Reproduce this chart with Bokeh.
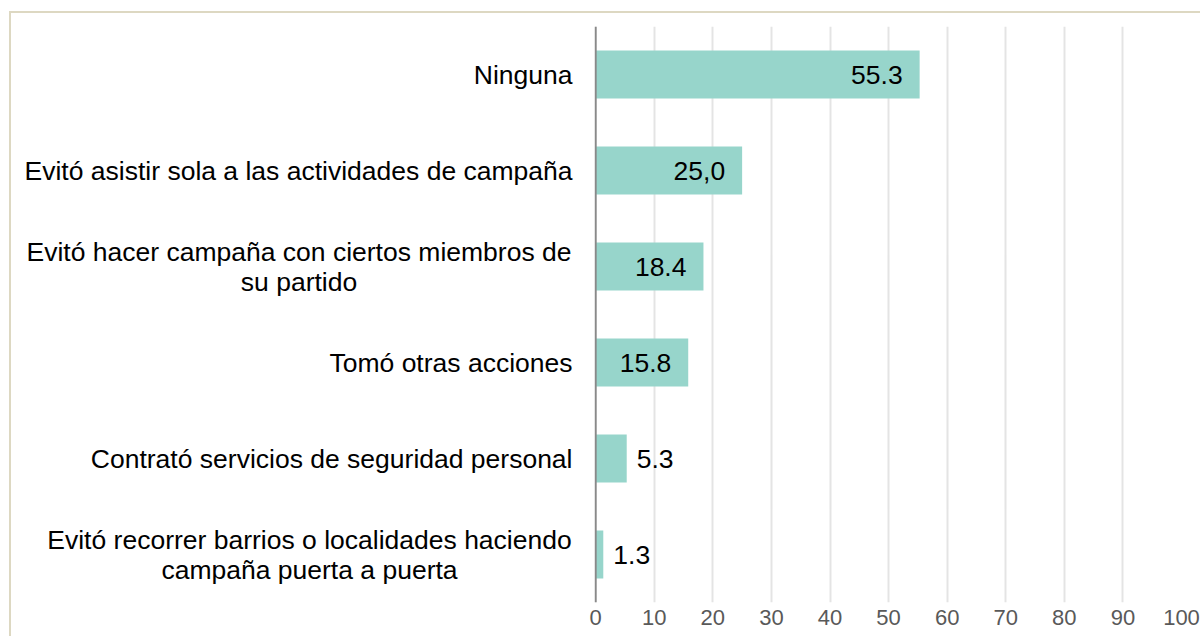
from bokeh.plotting import figure
from bokeh.layouts import row
from bokeh.models import Range1d, FixedTicker, Span, ColumnDataSource
from bokeh.core.properties import value
from bokeh.embed import file_html
from bokeh.resources import INLINE

# ---- data ----
categories = [
    "Ninguna",
    "Evitó asistir sola a las actividades de campaña",
    "Evitó hacer campaña con ciertos miembros de\nsu partido",
    "Tomó otras acciones",
    "Contrató servicios de seguridad personal",
    "Evitó recorrer barrios o localidades haciendo\ncampaña puerta a puerta",
]
values = [55.3, 25.0, 18.4, 15.8, 5.3, 1.3]
value_labels = ["55.3", "25,0", "18.4", "15.8", "5.3", "1.3"]
x_ticks = [0, 10, 20, 30, 40, 50, 60, 70, 80, 90, 100]

FONT = "Liberation Sans"
BAR_COLOR = "#97D5CB"

n = len(categories)
ypos = [n - i - 0.5 for i in range(n)]

OX, OY = 11, 13       # page position of the content (inside the border)
SPLIT = 583           # page x where the label panel ends
FRAME_LEFT = 594      # page x of the plot frame's left edge
TOP, BOTTOM = 26, 602 # page y of plot area
H = 636 - OY

# ---- label panel (category names) ----
lab = figure(width=SPLIT - OX, height=H, output_backend="svg", toolbar_location=None,
             x_range=Range1d(OX, SPLIT), y_range=Range1d(0, n),
             min_border_left=0, min_border_right=0, min_border_top=TOP - OY,
             min_border_bottom=636 - BOTTOM)
lab.axis.visible = False
lab.grid.grid_line_color = None
lab.outline_line_color = None
lab.background_fill_color = "white"
lab.border_fill_color = "white"

lx, ly, lt, la, lo = [], [], [], [], []
centers = {2: 298.5, 5: 309.0}
for i, cat in enumerate(categories):
    lines = cat.split("\n")
    if len(lines) == 1:
        lx.append(572); ly.append(ypos[i]); lt.append(lines[0]); la.append("right"); lo.append(0)
    else:
        for j, ln in enumerate(lines):
            lx.append(centers[i]); ly.append(ypos[i]); lt.append(ln); la.append("center")
            lo.append(-15 + 30 * j)
lab.text(x="x", y="y", text="t", text_align="a", y_offset="o",
         source=ColumnDataSource(dict(x=lx, y=ly, t=lt, a=la, o=lo)),
         text_baseline="middle", text_font=value(FONT), text_font_size="26.5px",
         text_color="#000000")

# ---- bar chart ----
p = figure(width=1200 - SPLIT, height=H, output_backend="svg", toolbar_location=None,
           x_range=Range1d(-0.2, 100), y_range=Range1d(0, n),
           min_border_left=FRAME_LEFT - SPLIT, min_border_right=19,
           min_border_top=TOP - OY, min_border_bottom=636 - BOTTOM)
p.background_fill_color = "white"
p.border_fill_color = "white"
p.outline_line_color = None

p.yaxis.visible = False
p.ygrid.grid_line_color = None
p.xaxis.ticker = FixedTicker(ticks=x_ticks)
p.xaxis.axis_line_color = None
p.xaxis.major_tick_line_color = None
p.xaxis.minor_tick_line_color = None
p.xaxis.major_tick_out = 0
p.xaxis.major_tick_in = 0
p.xaxis.major_label_standoff = 7
p.xaxis.major_label_text_font = FONT
p.xaxis.major_label_text_font_size = "22px"
p.xaxis.major_label_text_color = "#595959"
p.xgrid.grid_line_color = "#E4E4E4"
p.xgrid.grid_line_width = 2

inside = [v > 10 for v in values]
src = ColumnDataSource(dict(
    y=ypos, v=values, lab=value_labels,
    xo=[-17 if i else 10 for i in inside],
    al=["right" if i else "left" for i in inside],
))
p.hbar(y="y", right="v", left=0, height=0.5, source=src, color=BAR_COLOR, line_color=None)
p.add_layout(Span(location=0, dimension="height", line_color="#898989", line_width=2))
p.text(x="v", y="y", text="lab", source=src, x_offset="xo", text_align="al",
       text_baseline="middle", text_font=value(FONT), text_font_size="26.5px",
       text_color="#000000")

layout = row(lab, p, spacing=0)
layout.styles = {"margin-left": "9px", "margin-top": "11px",
                 "border-left": "2px solid #DDD8C2", "border-top": "2px solid #DDD8C2"}

open("out.html", "w").write(file_html(layout, INLINE))
